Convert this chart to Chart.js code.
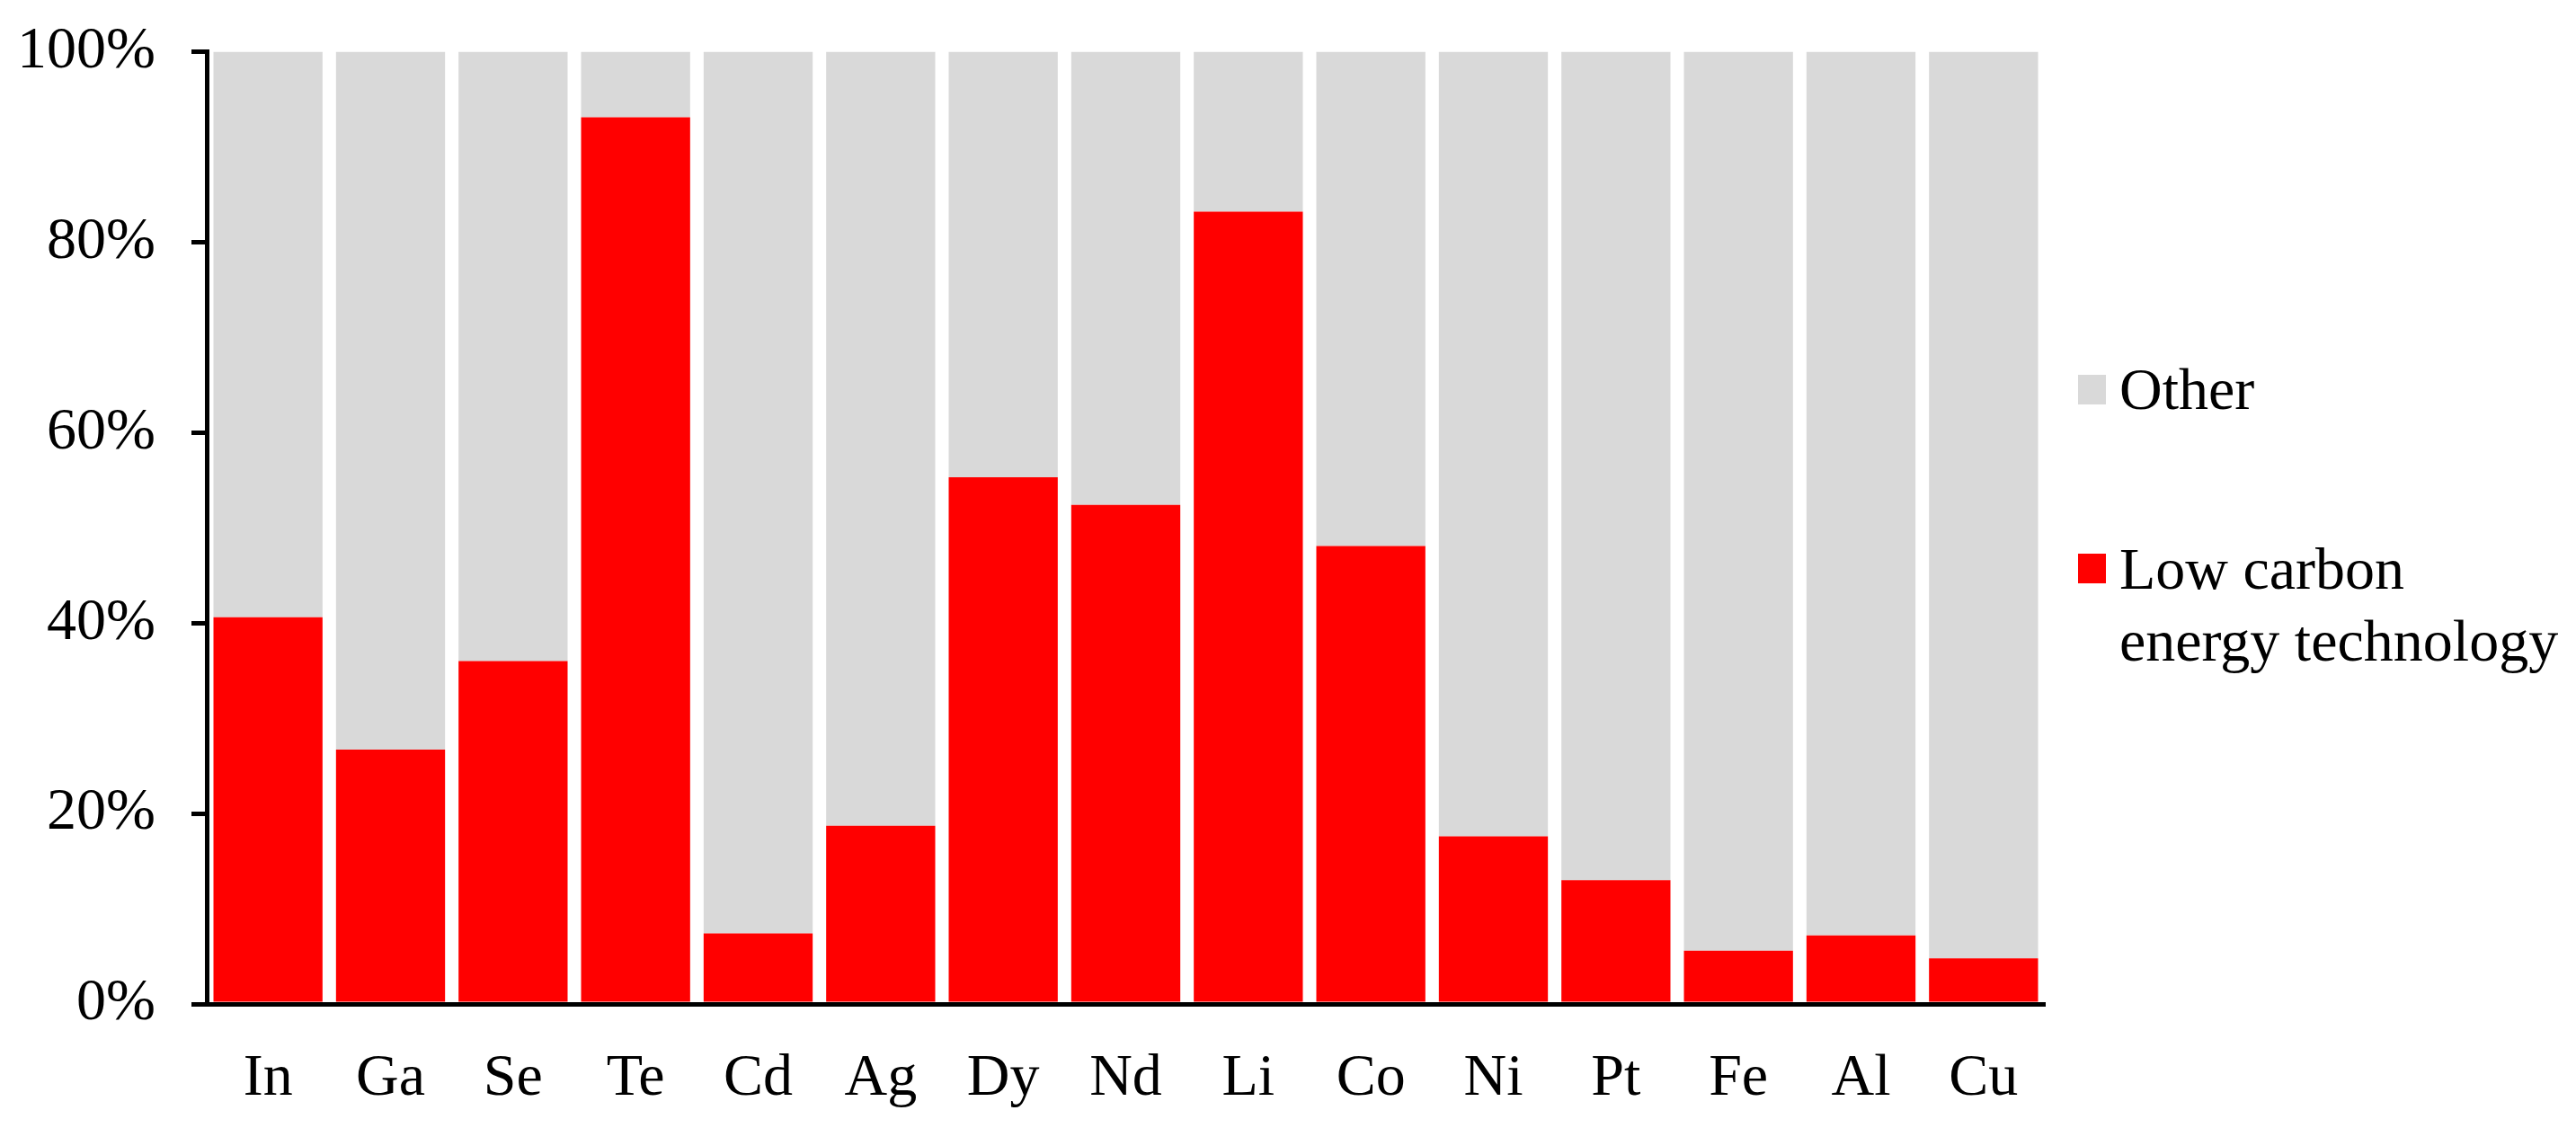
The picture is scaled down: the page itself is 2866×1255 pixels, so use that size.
<!DOCTYPE html>
<html>
<head>
<meta charset="utf-8">
<script src="https://cdn.jsdelivr.net/npm/chart.js@4/dist/chart.umd.min.js"></script>
<style>
  html, body { margin: 0; padding: 0; background: #fff; }
  #wrap { position: relative; width: 2866px; height: 1255px; }
  canvas { position: absolute; left: 0; top: 0; }
  .leg { position: absolute; font-family: 'Liberation Serif', 'Times New Roman', serif; font-size: 66px; color: #000; line-height: 80px; white-space: nowrap; }
  .sw { position: absolute; width: 31px; height: 33px; }
</style>
</head>
<body>
<div id="wrap">
  <canvas id="c" width="2866" height="1255"></canvas>
  <div class="sw" style="left:2312px; top:417px; background:#D9D9D9;"></div>
  <div class="leg" style="left:2358px; top:393px;">Other</div>
  <div class="sw" style="left:2312px; top:616px; background:#FF0000;"></div>
  <div class="leg" style="left:2358px; top:593px;">Low carbon<br>energy technology</div>
</div>
<script>
const categories = ['In','Ga','Se','Te','Cd','Ag','Dy','Nd','Li','Co','Ni','Pt','Fe','Al','Cu'];
const lowCarbon = [40.6, 26.7, 36.0, 93.1, 7.4, 18.7, 55.3, 52.4, 83.2, 48.1, 17.6, 13.0, 5.6, 7.2, 4.8];
const other = lowCarbon.map(v => 100 - v);
const yTicks = [0, 20, 40, 60, 80, 100];
const seriesNames = ['Low carbon energy technology', 'Other'];

const fontFam = "'Liberation Serif', 'Times New Roman', serif";

new Chart(document.getElementById('c'), {
  type: 'bar',
  data: {
    labels: categories,
    datasets: [
      { label: seriesNames[0], data: lowCarbon, backgroundColor: '#FF0000', borderWidth: 0 },
      { label: seriesNames[1], data: other, backgroundColor: '#D9D9D9', borderWidth: 0 }
    ]
  },
  options: {
    responsive: false,
    devicePixelRatio: 1,
    animation: false,
    datasets: { bar: { categoryPercentage: 1.0, barPercentage: 0.89 } },
    layout: { padding: { left: 25, right: 591, top: 0, bottom: 0 } },
    plugins: { legend: { display: false }, tooltip: { enabled: false } },
    scales: {
      x: {
        stacked: true,
        grid: { display: false, drawTicks: false },
        border: { display: true, color: '#000', width: 5 },
        ticks: { color: '#000', font: { family: fontFam, size: 66 }, padding: 44, maxRotation: 0 },
        afterFit: (s) => { s.height = 138; }
      },
      y: {
        stacked: true,
        min: 0, max: 100,
        afterBuildTicks: (s) => { s.ticks = yTicks.map(v => ({ value: v })); },
        grid: { drawOnChartArea: false, drawTicks: true, tickLength: 17, color: '#000', lineWidth: 5 },
        border: { display: true, color: '#000', width: 5 },
        ticks: { color: '#000', font: { family: fontFam, size: 66, lineHeight: 0.53 }, padding: 40, callback: v => v + '%' },
        afterFit: (s) => { s.width = 205; }
      }
    }
  }
});
</script>
</body>
</html>
